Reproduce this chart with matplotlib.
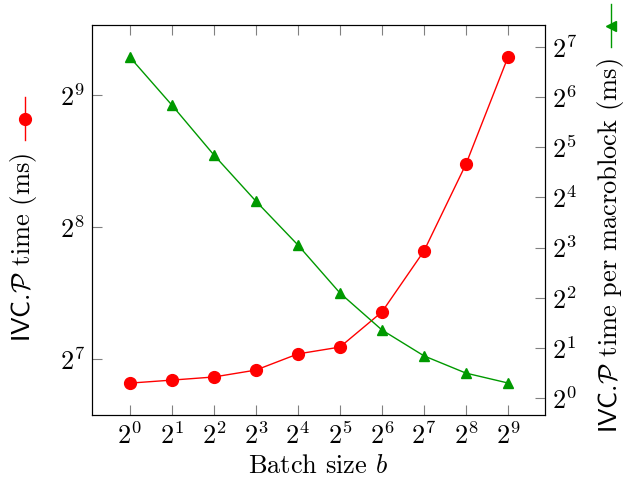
import matplotlib
matplotlib.use("Agg")
import matplotlib.pyplot as plt
from matplotlib.lines import Line2D

plt.rcParams["font.family"] = "serif"
plt.rcParams["font.serif"] = ["cmr10"]
plt.rcParams["mathtext.fontset"] = "cm"
plt.rcParams["axes.unicode_minus"] = False
plt.rcParams["axes.formatter.use_mathtext"] = True

# Data
batch = [1, 2, 4, 8, 16, 32, 64, 128, 256, 512]
time_ms = [112.8, 114.6, 116.5, 120.8, 131.5, 136.3, 163.9, 225.7, 356.3, 625.0]
time_per_mb = [111.4, 57.4, 28.8, 15.2, 8.29, 4.27, 2.56, 1.79, 1.41, 1.23]

x_labels = [r"$2^{%d}$" % i for i in range(10)]
left_ticks = [2**7, 2**8, 2**9]
left_labels = [r"$2^{7}$", r"$2^{8}$", r"$2^{9}$"]
right_ticks = [2**i for i in range(8)]
right_labels = [r"$2^{%d}$" % i for i in range(8)]

red = "#ff0000"
green = "#009900"
fs = 19

fig = plt.figure(figsize=(6.25, 4.9), dpi=100)
ax = fig.add_axes([0.1472, 0.153, 0.7248, 0.796])
ax2 = ax.twinx()

ax.plot(batch, time_ms, color=red, lw=1, marker="o", ms=8.5, zorder=3)
ax2.plot(batch, time_per_mb, color=green, lw=1, marker="^", ms=7.5, zorder=3)

ax.set_xscale("log", base=2)
ax.set_yscale("log", base=2)
ax2.set_yscale("log", base=2)

ax.set_xlim(2**-0.9, 2**9.88)
ax.set_ylim(2**6.576, 2**9.53)
ax2.set_ylim(2**-0.34, 2**7.44)

ax.set_xticks(batch)
ax.set_xticklabels(x_labels, fontsize=fs)
ax.set_yticks(left_ticks)
ax.set_yticklabels(left_labels, fontsize=fs)
ax2.set_yticks(right_ticks)
ax2.set_yticklabels(right_labels, fontsize=fs)
ax.minorticks_off()
ax2.minorticks_off()

ax.tick_params(axis="x", which="both", direction="in", top=True, length=7,
               color="grey", width=0.8, pad=5)
ax.tick_params(axis="y", direction="in", length=7, color="grey", width=0.8, pad=5)
ax2.tick_params(axis="y", direction="in", length=7, color="grey", width=0.8, pad=5)

ax.set_xlabel(r"Batch size $b$", fontsize=fs, labelpad=4)

# y labels with the legend marks drawn next to them
fig.text(0.037, 1 - 153 / 490, r"$\mathsf{IVC.}\!\mathcal{P}$ time (ms)", rotation=90,
         ha="center", va="top", fontsize=fs)
fig.add_artist(Line2D([0.04, 0.04], [1 - 140 / 490, 1 - 97 / 490], color=red,
                      lw=1, transform=fig.transFigure))
fig.add_artist(Line2D([0.04], [1 - 119 / 490], color=red, marker="o", ms=8.5,
                      transform=fig.transFigure))

fig.text(0.976, 1 - 58 / 490, r"$\mathsf{IVC.}\!\mathcal{P}$ time per macroblock (ms)",
         rotation=90, ha="center", va="top", fontsize=fs)
fig.add_artist(Line2D([0.978, 0.978], [1 - 47 / 490, 1 - 4 / 490], color=green,
                      lw=1, transform=fig.transFigure))
fig.add_artist(Line2D([0.978], [1 - 26 / 490], color=green, marker="<", ms=7.5,
                      transform=fig.transFigure))

fig.savefig("out.png", dpi=100)
